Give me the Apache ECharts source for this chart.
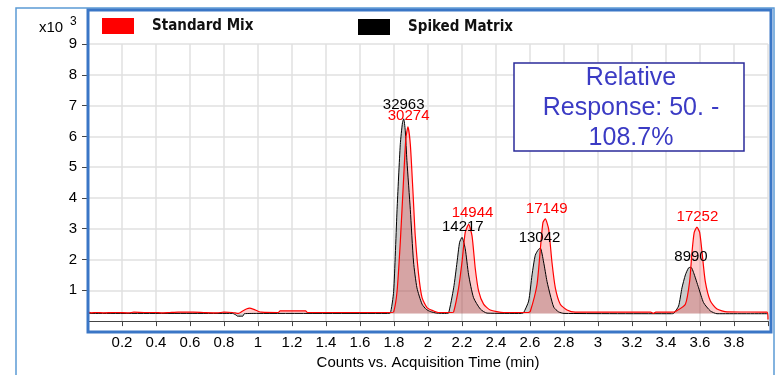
<!DOCTYPE html>
<html>
<head>
<meta charset="utf-8">
<script src="https://cdn.jsdelivr.net/npm/echarts@6/dist/echarts.min.js"></script>
<style>
  html, body { margin: 0; padding: 0; background: #fff; }
  #chart { width: 777px; height: 375px; }
</style>
</head>
<body>
<div id="chart"></div>
<script>
// Spiked Matrix trace (time in min, counts x10^3)
var blackTime = [0.00, 0.85, 0.87, 0.88, 0.91, 0.92, 1.00, 1.76, 1.778, 1.798, 1.818, 1.837, 1.850, 1.857, 1.866, 1.876, 1.896, 1.915, 1.935, 1.965, 1.990, 2.014, 2.05,
  2.11, 2.121, 2.151, 2.171, 2.186, 2.200, 2.219, 2.239, 2.268, 2.308, 2.347,
  2.55, 2.562, 2.592, 2.612, 2.631, 2.650, 2.661, 2.680, 2.700, 2.719, 2.740, 2.768, 2.80,
  3.43, 3.445, 3.474, 3.494, 3.514, 3.533, 3.547, 3.562, 3.592, 3.621, 3.661, 3.70, 4.00];
var blackValue = [0.25, 0.25, 0.20, 0.16, 0.16, 0.24, 0.25, 0.25, 0.26, 0.97, 3.62, 5.74, 6.45, 6.57, 6.20, 5.21, 3.62, 1.92, 1.08, 0.55, 0.38, 0.31, 0.26,
  0.25, 0.26, 1.08, 1.92, 2.56, 2.72, 2.35, 1.50, 0.76, 0.39, 0.26,
  0.25, 0.27, 0.65, 1.50, 2.14, 2.33, 2.37, 1.92, 1.29, 0.85, 0.45, 0.30, 0.25,
  0.24, 0.25, 0.49, 1.08, 1.50, 1.73, 1.75, 1.58, 1.08, 0.60, 0.33, 0.24, 0.24];

// Standard Mix trace
var redTime = [0.00, 0.02, 0.05, 0.09, 0.16, 0.24, 0.27, 0.33, 0.40, 0.43, 0.48, 0.53, 0.62, 0.68, 0.76, 0.80, 0.85, 0.885, 0.91, 0.935, 0.95, 0.975, 1.00, 1.02,
  1.12, 1.13, 1.28, 1.29, 1.50, 1.78, 1.798, 1.818, 1.837, 1.857, 1.870, 1.882, 1.896, 1.912, 1.925, 1.945, 1.965, 1.994, 2.033, 2.06,
  2.14, 2.151, 2.180, 2.200, 2.219, 2.239, 2.259, 2.278, 2.298, 2.327, 2.366, 2.444,
  2.59, 2.602, 2.641, 2.661, 2.676, 2.690, 2.710, 2.729, 2.749, 2.778, 2.818, 2.866,
  3.31, 3.326, 3.34, 3.44, 3.455, 3.514, 3.539, 3.553, 3.566, 3.582, 3.598, 3.612, 3.631, 3.661, 3.700, 3.759, 3.994, 4.00];
var redValue = [0.29, 0.27, 0.28, 0.27, 0.28, 0.27, 0.29, 0.28, 0.28, 0.27, 0.28, 0.29, 0.29, 0.28, 0.27, 0.29, 0.28, 0.25, 0.33, 0.40, 0.42, 0.38, 0.32, 0.29,
  0.28, 0.33, 0.33, 0.28, 0.28, 0.28, 0.30, 0.97, 2.56, 4.68, 5.95, 6.31, 5.74, 4.15, 2.77, 1.50, 0.76, 0.44, 0.33, 0.28,
  0.28, 0.30, 1.08, 1.92, 2.88, 3.14, 2.77, 1.71, 0.97, 0.55, 0.36, 0.28,
  0.28, 0.32, 1.18, 2.35, 3.20, 3.32, 2.98, 1.92, 1.08, 0.55, 0.36, 0.29,
  0.29, 0.25, 0.29, 0.29, 0.31, 0.55, 1.29, 2.24, 2.88, 3.05, 2.88, 2.24, 1.29, 0.65, 0.39, 0.30, 0.29, 0.05];

// peak area labels, placed in data space
var blackLabelTime = [1.857, 2.205, 2.656, 3.547];
var blackLabelValue = [7.03, 3.07, 2.69, 2.08];
var blackLabelText = ['32963', '14217', '13042', '8990'];
var redLabelTime = [1.886, 2.262, 2.698, 3.585];
var redLabelValue = [6.66, 3.51, 3.65, 3.39];
var redLabelText = ['30274', '14944', '17149', '17252'];

var yTicks = [1, 2, 3, 4, 5, 6, 7, 8, 9];
var seriesNames = ['Standard Mix', 'Spiked Matrix'];
var annotation = 'Relative\nResponse: 50. -\n108.7%';

function pairs(xs, ys) {
  return xs.map(function (x, i) { return [x, ys[i]]; });
}
function labelPoints(ts, vs, txt, color) {
  return ts.map(function (t, i) {
    return {
      coord: [t, vs[i]],
      label: { show: true, position: 'inside', formatter: txt[i], color: color, fontSize: 15, fontFamily: 'Liberation Sans' }
    };
  });
}

var chart = echarts.init(document.getElementById('chart'));
var font = 'Liberation Sans';
var legendText = {
  fontFamily: "'DejaVu Sans Condensed', 'Liberation Sans'", fontWeight: 'bold', fontSize: 15,
  color: '#111', padding: [0, 0, 0, 13]
};

chart.setOption({
  animation: false,
  grid: { left: 88, right: 9, top: 44, bottom: 48 },
  legend: [
    { data: [seriesNames[0]], left: 102, top: 18, padding: 0, icon: 'rect', itemWidth: 32, itemHeight: 16, textStyle: legendText },
    { data: [seriesNames[1]], left: 358, top: 19, padding: 0, icon: 'rect', itemWidth: 32, itemHeight: 16, textStyle: legendText }
  ],
  xAxis: {
    type: 'value', min: 0, max: 4, interval: 0.2, offset: 7,
    name: 'Counts vs. Acquisition Time (min)', nameLocation: 'middle', nameGap: 26,
    nameTextStyle: { fontFamily: font, fontSize: 15, color: '#000' },
    axisLine: { lineStyle: { color: '#444', width: 1 } },
    axisTick: { length: 5, lineStyle: { color: '#444' } },
    axisLabel: {
      fontFamily: font, fontSize: 15, color: '#000', margin: 7,
      formatter: function (v) { return (v <= 0 || v >= 4) ? '' : String(+v.toFixed(1)); }
    },
    splitLine: { show: true, lineStyle: { color: '#e0e0e0', width: 1.5 } }
  },
  yAxis: {
    type: 'value', min: 0, max: 9, interval: 1, offset: 3,
    axisLine: { show: true, lineStyle: { color: '#444', width: 1 } },
    axisTick: { show: true, length: 6, customValues: yTicks, lineStyle: { color: '#444' } },
    axisLabel: {
      fontFamily: font, fontSize: 15, color: '#000', margin: 8, customValues: yTicks,
      formatter: function (v) { return v === 0 ? '' : String(v); }
    },
    splitLine: { show: true, lineStyle: { color: '#e0e0e0', width: 1.5 } }
  },
  series: [
    {
      name: seriesNames[1], type: 'line', data: pairs(blackTime, blackValue),
      showSymbol: false, smooth: 0.2, color: '#000',
      lineStyle: { color: '#000', width: 1 },
      areaStyle: { color: 'rgba(110,110,110,0.5)', origin: 0.25 },
      markPoint: { symbol: 'circle', symbolSize: 1, itemStyle: { color: 'rgba(0,0,0,0)' },
        data: labelPoints(blackLabelTime, blackLabelValue, blackLabelText, '#000') }
    },
    {
      name: seriesNames[0], type: 'line', data: pairs(redTime, redValue),
      showSymbol: false, smooth: 0.2, color: '#ff0000',
      lineStyle: { color: '#ff0000', width: 1.2 },
      areaStyle: { color: 'rgba(255,0,0,0.28)', origin: 0.25 },
      markPoint: { symbol: 'circle', symbolSize: 1, itemStyle: { color: 'rgba(0,0,0,0)' },
        data: labelPoints(redLabelTime, redLabelValue, redLabelText, '#ff0000') }
    }
  ],
  graphic: [
    // outer frame
    { type: 'polyline', z: 100, shape: { points: [[16, 375], [16, 8], [774, 8], [774, 375]] },
      style: { stroke: '#5b9bd5', lineWidth: 1.5, fill: null } },
    // plot frame
    { type: 'rect', z: 100, shape: { x: 88, y: 10, width: 683, height: 322 },
      style: { stroke: '#3a76c6', lineWidth: 3, fill: null } },
    { type: 'text', z: 100, style: { text: 'x10', x: 39, y: 28, verticalAlign: 'middle', font: '15px "Liberation Sans"', fill: '#000' } },
    { type: 'text', z: 100, style: { text: '3', x: 70, y: 22, verticalAlign: 'middle', font: '12px "Liberation Sans"', fill: '#000' } },
    // annotation box
    { type: 'rect', z: 100, shape: { x: 514, y: 63, width: 230, height: 88 },
      style: { stroke: '#2b2b9b', lineWidth: 1.5, fill: '#fff' } },
    { type: 'text', z: 101, style: { text: annotation, x: 631, y: 108, align: 'center', verticalAlign: 'middle',
      font: '25px "Liberation Sans"', lineHeight: 30, fill: '#3b3bc4' } }
  ]
});
</script>
</body>
</html>
